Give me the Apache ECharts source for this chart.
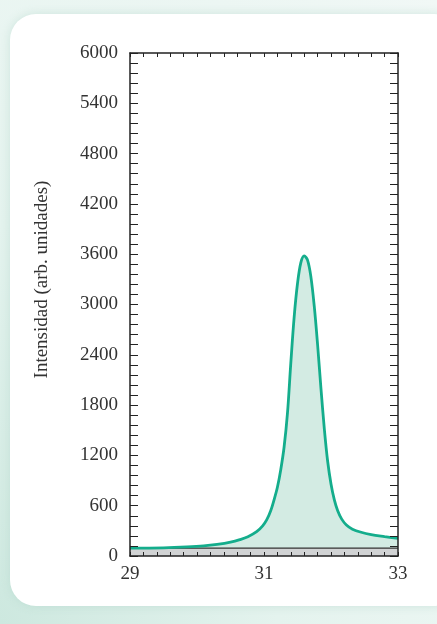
<!DOCTYPE html>
<html>
<head>
<meta charset="utf-8">
<script src="https://cdn.jsdelivr.net/npm/echarts@6/dist/echarts.min.js"></script>
<style>
  html, body { margin: 0; padding: 0; }
  body {
    width: 437px; height: 624px; overflow: hidden; position: relative;
    background: radial-gradient(ellipse at 0% 100%, #cde8df 0%, #e4f3ee 45%, #f1f8f6 100%);
  }
  #card {
    position: absolute; left: 10px; top: 14px; width: 450px; height: 592px;
    background: #fff; border-radius: 26px;
    box-shadow: 0 0 10px rgba(170, 210, 198, 0.45);
  }
  #chart { position: absolute; left: 0; top: 0; width: 437px; height: 624px; }
</style>
</head>
<body>
<div id="card"></div>
<div id="chart"></div>
<script>
// 2θ (grados) e intensidad
const twoTheta = [29.0, 29.5, 29.85, 30.1, 30.3, 30.5, 30.64, 30.76, 30.89, 30.98,
    31.04, 31.1, 31.15, 31.2, 31.25, 31.3, 31.35, 31.4, 31.45, 31.5,
    31.55, 31.6, 31.65, 31.7, 31.75, 31.8, 31.85, 31.9, 31.95, 32.0,
    32.05, 32.1, 32.16, 32.23, 32.32, 32.45, 32.6, 32.8, 33.0]
const intensity = [93, 98, 108, 120, 138, 165, 195, 230, 290, 360,
    430, 540, 670, 820, 1030, 1300, 1700, 2300, 2850, 3250,
    3500, 3580, 3530, 3330, 2980, 2520, 2000, 1520, 1130, 860,
    670, 540, 440, 370, 320, 283, 256, 232, 210]
const xTickLabels = [29, 31, 33]
const yTickLabels = [0, 600, 1200, 1800, 2400, 3000, 3600, 4200, 4800, 5400, 6000]
const baseBand = [95, 95]   // franja gris del fondo
const baseBandX = [29, 33]

const serif = '"Liberation Serif", "DejaVu Serif", serif'
const axisColor = '#222'

var chart = echarts.init(document.getElementById('chart'))
var points = twoTheta.map(function (x, i) { return [x, intensity[i]] })
var bandPoints = baseBandX.map(function (x, i) { return [x, baseBand[i]] })

function near(v, list) {
    return list.some(function (t) { return Math.abs(v - t) < 1e-6 })
}

function frameAxis(pos, min, max, interval, len) {
    return {
        type: 'value', position: pos, min: min, max: max, interval: interval, z: 10,
        axisLine: { show: true, onZero: false, lineStyle: { color: axisColor, width: 1.5 } },
        axisTick: { inside: true, length: len, lineStyle: { color: axisColor, width: 1 } },
        axisLabel: { show: false },
        splitLine: { show: false }
    }
}

var bottomAxis = frameAxis('bottom', 29, 33, 0.2, 4)
bottomAxis.axisLabel = {
    margin: 9, color: '#333', fontFamily: serif, fontSize: 19,
    formatter: function (v) { return near(v, xTickLabels) ? String(Math.round(v)) : '' }
}
var leftAxis = frameAxis('left', 0, 6000, 120, 8)
leftAxis.axisLabel = {
    margin: 12, color: '#333', fontFamily: serif, fontSize: 19, padding: [5, 0, 0, 0],
    formatter: function (v) { return near(v, yTickLabels) ? String(Math.round(v)) : '' }
}
leftAxis.name = 'Intensidad (arb. unidades)'
leftAxis.nameLocation = 'middle'
leftAxis.nameGap = 78
leftAxis.nameTextStyle = { color: '#333', fontFamily: serif, fontSize: 19, padding: [0, 0, 0, 50] }

let option = {
    animation: false,
    backgroundColor: 'transparent',
    grid: { left: 130, top: 53, right: 39, bottom: 68 },
    xAxis: [bottomAxis, frameAxis('top', 29, 33, 0.2, 4)],
    yAxis: [leftAxis, frameAxis('right', 0, 6000, 120, 8)],
    series: [
        {
            type: 'line', data: points, smooth: 0.35, symbol: 'none', z: 1,
            lineStyle: { width: 0 },
            areaStyle: { color: '#d3ebe3', opacity: 1, origin: 'start' }
        },
        {
            type: 'line', data: bandPoints, symbol: 'none', z: 2,
            lineStyle: { color: '#333', width: 1.2 },
            areaStyle: { color: '#d1d3d4', opacity: 1, origin: 'start' }
        },
        {
            type: 'line', data: points, smooth: 0.35, symbol: 'none', z: 3,
            lineStyle: { color: '#14ad8c', width: 2.8 }
        }
    ]
}
chart.setOption(option)
</script>
</body>
</html>
